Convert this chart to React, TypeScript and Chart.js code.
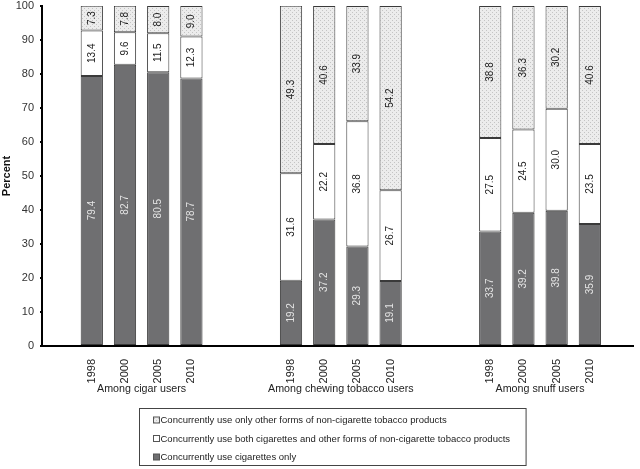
import React, { useEffect, useRef } from 'react';
import { Chart, registerables } from 'chart.js';

Chart.register(...registerables);

const groups = ['Among cigar users', 'Among chewing tobacco users', 'Among snuff users'];
const years = ['1998', '2000', '2005', '2010'];
const cigarettesOnly = [79.4, 82.7, 80.5, 78.7, 19.2, 37.2, 29.3, 19.1, 33.7, 39.2, 39.8, 35.9];
const bothProducts = [13.4, 9.6, 11.5, 12.3, 31.6, 22.2, 36.8, 26.7, 27.5, 24.5, 30.0, 23.5];
const otherOnly = [7.3, 7.8, 8.0, 9.0, 49.3, 40.6, 33.9, 54.2, 38.8, 36.3, 30.2, 40.6];
const seriesLabels = [
  'Concurrently use cigarettes only',
  'Concurrently use both cigarettes and other forms of non-cigarette tobacco products',
  'Concurrently use only other forms of non-cigarette tobacco products',
];
const yTicks = [0, 10, 20, 30, 40, 50, 60, 70, 80, 90, 100];

const FONT = "'Liberation Sans', Arial, Helvetica, sans-serif";
const GAP_SLOTS = 2;

function makePattern(): CanvasPattern | string {
  const c = document.createElement('canvas');
  c.width = 4;
  c.height = 4;
  const ctx = c.getContext('2d');
  if (!ctx) return '#e6e6e6';
  ctx.fillStyle = '#ececec';
  ctx.fillRect(0, 0, 4, 4);
  ctx.fillStyle = '#c4c4c4';
  ctx.fillRect(0, 0, 1, 1);
  ctx.fillRect(2, 2, 1, 1);
  const p = ctx.createPattern(c, 'repeat');
  return p || '#e6e6e6';
}

export default function App() {
  const ref = useRef<HTMLCanvasElement | null>(null);

  useEffect(() => {
    const canvas = ref.current;
    if (!canvas) return;

    const positions: number[] = [];
    const tickLabel: Record<number, string> = {};
    groups.forEach((_, gi) => {
      years.forEach((yr, yi) => {
        const p = gi * (years.length + GAP_SLOTS) + yi + 1;
        positions.push(p);
        tickLabel[p] = yr;
      });
    });

    const pattern = makePattern();
    const series = [cigarettesOnly, bothProducts, otherOnly];
    const fills: (string | CanvasPattern)[] = ['#6f6f71', '#ffffff', pattern];
    const labelColors = ['#e4e4e4', '#222222', '#222222'];

    const datasets = series.map((vals, si) => ({
      label: seriesLabels[si],
      data: positions.map((p, k) => ({ x: p, y: vals[k] })),
      backgroundColor: fills[si],
      borderColor: '#3a3a3a',
      borderWidth: 1,
      borderSkipped: false as const,
      stack: 'all',
      barPercentage: 0.67,
      categoryPercentage: 1,
    }));

    const valueLabels = {
      id: 'valueLabels',
      afterDatasetsDraw(chart: any) {
        const ctx = chart.ctx;
        ctx.save();
        ctx.font = `10px ${FONT}`;
        ctx.textAlign = 'center';
        ctx.textBaseline = 'middle';
        chart.data.datasets.forEach((ds: any, di: number) => {
          const meta = chart.getDatasetMeta(di);
          meta.data.forEach((el: any, i: number) => {
            const { x, y, base } = el.getProps(['x', 'y', 'base'], true);
            const v = ds.data[i].y;
            ctx.fillStyle = labelColors[di];
            ctx.save();
            ctx.translate(x, (y + base) / 2);
            ctx.rotate(-Math.PI / 2);
            ctx.fillText(v.toFixed(1), 0, 0);
            ctx.restore();
          });
        });
        ctx.restore();
      },
    };

    const groupLabels = {
      id: 'groupLabels',
      afterDraw(chart: any) {
        const ctx = chart.ctx;
        const xs = chart.scales.x;
        ctx.save();
        ctx.font = `10.7px ${FONT}`;
        ctx.fillStyle = '#222';
        ctx.textAlign = 'center';
        ctx.textBaseline = 'middle';
        groups.forEach((g, gi) => {
          const first = positions[gi * years.length];
          const last = positions[gi * years.length + years.length - 1];
          const px = xs.getPixelForValue((first + last) / 2);
          ctx.fillText(g, px, chart.chartArea.bottom + 43);
        });
        ctx.restore();
      },
    };

    const boxLegend = {
      id: 'boxLegend',
      afterDraw(chart: any) {
        const ctx = chart.ctx;
        ctx.save();
        ctx.font = `9.5px ${FONT}`;
        const items = chart.data.datasets
          .map((ds: any) => ({ text: ds.label, fill: ds.backgroundColor }))
          .reverse();
        const maxW = Math.max(...items.map((it: any) => ctx.measureText(it.text).width));
        const left = 139.5;
        const top = 408.5;
        const w = 20 + maxW + 17;
        const h = 57;
        ctx.strokeStyle = '#444';
        ctx.lineWidth = 1;
        ctx.strokeRect(left, top, w, h);
        ctx.textAlign = 'left';
        ctx.textBaseline = 'middle';
        items.forEach((it: any, i: number) => {
          const cy = top + 11.5 + i * 18.5;
          ctx.fillStyle = it.fill;
          ctx.fillRect(left + 14, cy - 3, 6, 6);
          ctx.strokeStyle = '#555';
          ctx.strokeRect(left + 14, cy - 3, 6, 6);
          ctx.fillStyle = '#222';
          ctx.fillText(it.text, left + 21, cy + 0.5);
        });
        ctx.restore();
      },
    };

    const lastPos = positions[positions.length - 1];

    const chart = new Chart(canvas, {
      type: 'bar',
      data: { datasets: datasets as any },
      options: {
        animation: false,
        responsive: false,
        devicePixelRatio: 1,
        layout: { padding: { top: 6, right: 7, left: 0, bottom: 0 } },
        plugins: {
          legend: { display: false },
          tooltip: { enabled: false },
        },
        scales: {
          x: {
            type: 'linear',
            offset: false,
            min: -0.5,
            max: lastPos + 1.3,
            grid: { display: false, offset: false },
            border: { display: true, color: '#000', width: 2 },
            afterBuildTicks: (scale: any) => {
              scale.ticks = positions.map((v) => ({ value: v }));
            },
            afterFit: (scale: any) => {
              scale.height = 123;
              scale.paddingLeft = 0;
              scale.paddingRight = 0;
            },
            ticks: {
              autoSkip: false,
              minRotation: 90,
              maxRotation: 90,
              padding: 5,
              color: '#222',
              font: { family: FONT, size: 11 },
              callback: (value: any) => tickLabel[value as number] ?? '',
            },
          },
          y: {
            min: 0,
            max: 100,
            stacked: true,
            grid: { display: true, drawOnChartArea: false, drawTicks: true, tickLength: 2, color: '#000', lineWidth: 2 },
            border: { display: true, color: '#000', width: 2 },
            afterBuildTicks: (scale: any) => {
              scale.ticks = yTicks.map((v) => ({ value: v }));
            },
            afterFit: (scale: any) => {
              scale.width = 42;
              scale.paddingTop = 0;
              scale.paddingBottom = 0;
            },
            ticks: {
              padding: 6,
              color: '#333',
              font: { family: FONT, size: 11 },
            },
            title: {
              display: true,
              text: 'Percent',
              color: '#111',
              padding: { top: 0, bottom: 0 },
              font: { family: FONT, size: 11, weight: 'bold' },
            },
          },
        },
      },
      plugins: [valueLabels, groupLabels, boxLegend],
    });

    return () => chart.destroy();
  }, []);

  return (
    <div style={{ position: 'fixed', left: 0, top: 0, width: 640, height: 469, background: '#fff' }}>
      <canvas ref={ref} width={640} height={469} />
    </div>
  );
}
